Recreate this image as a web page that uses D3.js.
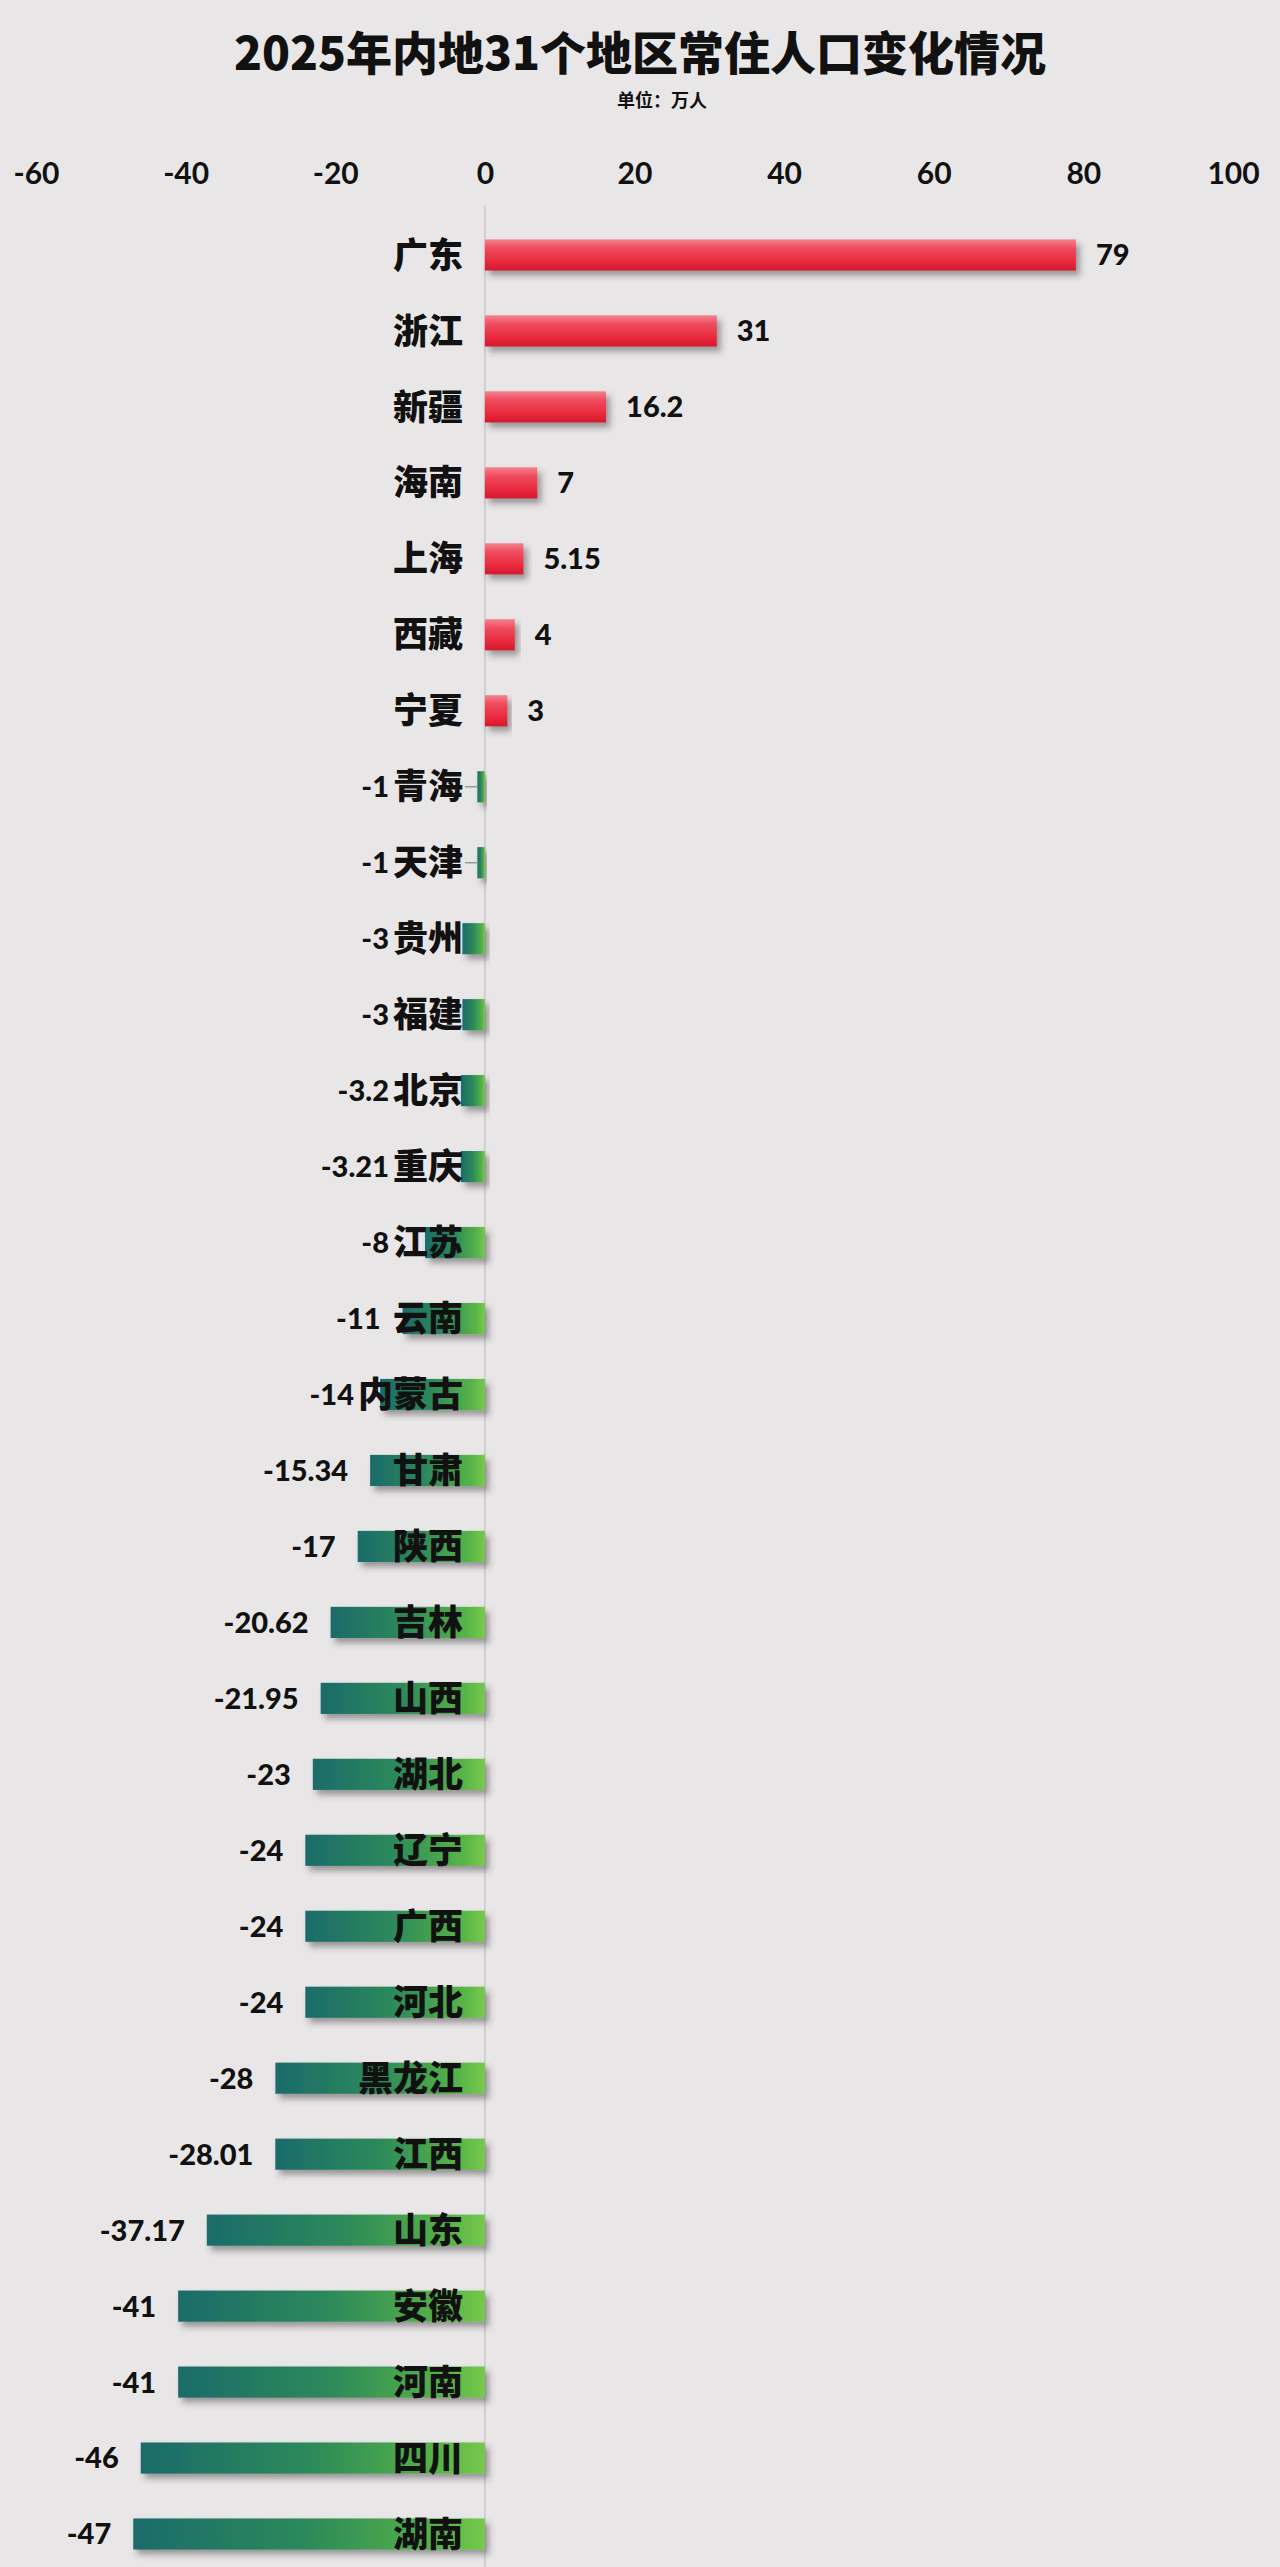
<!DOCTYPE html>
<html><head><meta charset="utf-8">
<script src="https://cdn.jsdelivr.net/npm/d3@7"></script>
<style>
html,body{margin:0;padding:0;background:#e9e6e7;}
svg{display:block;}
</style></head>
<body>
<svg id="chart" width="1280" height="2567"></svg>
<script>
const categories = ["广东","浙江","新疆","海南","上海","西藏","宁夏","青海","天津","贵州","福建","北京","重庆","江苏","云南","内蒙古","甘肃","陕西","吉林","山西","湖北","辽宁","广西","河北","黑龙江","江西","山东","安徽","河南","四川","湖南"];
const values = [79,31,16.2,7,5.15,4,3,-1,-1,-3,-3,-3.2,-3.21,-8,-11,-14,-15.34,-17,-20.62,-21.95,-23,-24,-24,-24,-28,-28.01,-37.17,-41,-41,-46,-47];
const tickValues = [-60,-40,-20,0,20,40,60,80,100];
const title = "2025年内地31个地区常住人口变化情况";
const subtitle = "单位：万人";

const data = categories.map((c,i)=>({name:c, value:values[i]}));
const svg = d3.select("#chart");
const W = 1280, H = 2567;
const numFont = "Lato, 'Open Sans', 'Noto Sans CJK SC', sans-serif";
const cjkFont = "'Noto Sans CJK SC', 'Noto Sans', sans-serif";

const defs = svg.append("defs");
const red = defs.append("linearGradient").attr("id","gRed").attr("x1",0).attr("y1",0).attr("x2",0).attr("y2",1);
red.append("stop").attr("offset","0%").attr("stop-color","#f4808c");
red.append("stop").attr("offset","30%").attr("stop-color","#ef4a5c");
red.append("stop").attr("offset","75%").attr("stop-color","#e8263b");
red.append("stop").attr("offset","100%").attr("stop-color","#d11a30");
const green = defs.append("linearGradient").attr("id","gGreen").attr("x1",0).attr("y1",0).attr("x2",1).attr("y2",0);
green.append("stop").attr("offset","0%").attr("stop-color","#1b6b6a");
green.append("stop").attr("offset","50%").attr("stop-color","#2d8a5a");
green.append("stop").attr("offset","88%").attr("stop-color","#58b447");
green.append("stop").attr("offset","100%").attr("stop-color","#78c94c");
const sh = defs.append("filter").attr("id","shadow").attr("x","-20%").attr("y","-40%").attr("width","140%").attr("height","200%");
sh.append("feDropShadow").attr("dx",4).attr("dy",5).attr("stdDeviation",3).attr("flood-color","#333").attr("flood-opacity",0.45);

const x = d3.scaleLinear().domain([-60,100]).range([36,1233]);
const y = d3.scaleBand().domain(categories).range([217,2572]).paddingInner(0.59).paddingOuter(0.295);

// title
svg.append("text").attr("x",640).attr("y",70).attr("text-anchor","middle")
  .attr("font-family",cjkFont).attr("font-weight",900).attr("font-size",46).attr("fill","#111").text(title);
svg.append("text").attr("x",662).attr("y",107).attr("text-anchor","middle")
  .attr("font-family",cjkFont).attr("font-weight",700).attr("font-size",18).attr("fill","#111").text(subtitle);

// axis
const axis = svg.append("g").attr("transform","translate(0,184)")
  .call(d3.axisTop(x).tickValues(tickValues).tickSize(0).tickPadding(0).tickFormat(d=>String(d)));
axis.select(".domain").remove();
axis.selectAll("text").attr("font-family",numFont).attr("font-weight",700).attr("font-size",30).attr("fill","#111").attr("dy",0);

// zero line
svg.append("line").attr("x1",x(0)).attr("x2",x(0)).attr("y1",205).attr("y2",H)
  .attr("stroke","#d2cfd0").attr("stroke-width",2);

// bars
const g = svg.append("g");
g.selectAll("rect.bar").data(data).join("rect").attr("class","bar")
  .attr("x",d=>x(Math.min(0,d.value)))
  .attr("y",d=>y(d.name))
  .attr("width",d=>Math.abs(x(d.value)-x(0)))
  .attr("height",y.bandwidth())
  .attr("fill",d=>d.value>=0?"url(#gRed)":"url(#gGreen)")
  .attr("filter","url(#shadow)");

// category labels
const labelRight = 463;
const labels = g.selectAll("text.cat").data(data).join("text").attr("class","cat")
  .attr("x",labelRight).attr("y",d=>y(d.name)+y.bandwidth()/2)
  .attr("dy","0.36em").attr("text-anchor","end")
  .attr("font-family",cjkFont).attr("font-weight",900).attr("font-size",35).attr("fill","#111")
  .text(d=>d.name);
const labelW = {};
labels.each(function(d){ labelW[d.name] = this.getComputedTextLength(); });

// leader lines for tiny bars
g.selectAll("line.lead").data(data.filter(d=>d.value<0 && x(d.value) > labelRight+8)).join("line")
  .attr("class","lead")
  .attr("x1",labelRight+2).attr("x2",d=>x(d.value))
  .attr("y1",d=>y(d.name)+y.bandwidth()/2).attr("y2",d=>y(d.name)+y.bandwidth()/2)
  .attr("stroke","#9a9a9a").attr("stroke-width",1.5);

// value labels
g.selectAll("text.val").data(data).join("text").attr("class","val")
  .attr("x",d=> d.value>=0 ? x(d.value)+20 : Math.min(x(d.value)-22, labelRight-labelW[d.name]-4))
  .attr("y",d=>y(d.name)+y.bandwidth()/2).attr("dy","0.36em")
  .attr("text-anchor",d=>d.value>=0?"start":"end")
  .attr("font-family",numFont).attr("font-weight",900).attr("font-size",29).attr("fill","#111")
  .text(d=>String(d.value));
</script>
</body></html>
